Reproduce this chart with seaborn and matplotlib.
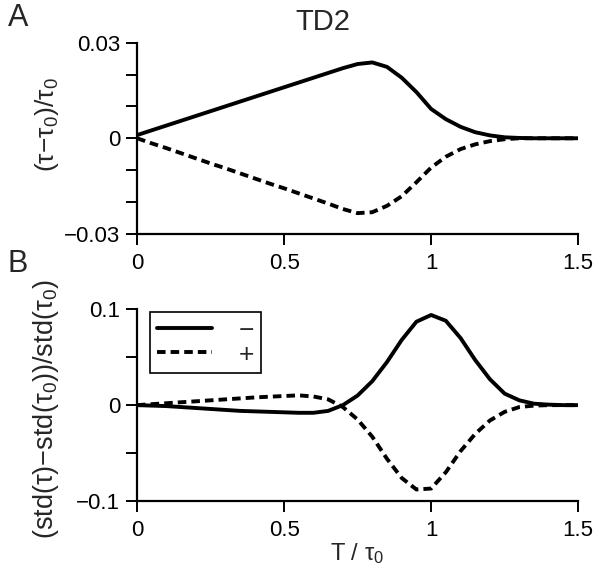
import numpy as np
import pandas as pd
import matplotlib
matplotlib.use("Agg")
import matplotlib.pyplot as plt
import seaborn as sns

# T / tau0 grid
t = np.round(np.arange(0, 1.501, 0.05), 2)

# panel A: (tau - tau0) / tau0
tau_minus = [0.001, 0.0025, 0.004, 0.0055, 0.007, 0.0085, 0.010, 0.0115, 0.013, 0.0145,
             0.016, 0.0175, 0.019, 0.0205, 0.022, 0.0233, 0.0238, 0.0224, 0.0190, 0.0145,
             0.0092, 0.0060, 0.0036, 0.0019, 0.0009, 0.0003, 0.0001, 0.0, 0.0, 0.0, 0.0]
tau_plus = [0.0, -0.0016, -0.0031, -0.0047, -0.0063, -0.0079, -0.0094, -0.011, -0.0126, -0.0142,
            -0.0157, -0.0173, -0.0189, -0.0205, -0.0222, -0.0235, -0.0232, -0.0212, -0.0182, -0.0138,
            -0.0092, -0.0058, -0.0034, -0.0019, -0.0009, -0.0003, 0.0, 0.0, 0.0, 0.0, 0.0]

# panel B: (std(tau) - std(tau0)) / std(tau0)
std_minus = [0.0, -0.0005, -0.001, -0.002, -0.003, -0.004, -0.005, -0.006, -0.0065, -0.007,
             -0.0075, -0.008, -0.008, -0.006, 0.0, 0.010, 0.025, 0.045, 0.068, 0.087,
             0.094, 0.088, 0.070, 0.047, 0.027, 0.012, 0.005, 0.0015, 0.0005, 0.0, 0.0]
std_plus = [0.0, 0.001, 0.002, 0.003, 0.004, 0.005, 0.006, 0.007, 0.008, 0.0088,
            0.0095, 0.0102, 0.009, 0.006, -0.002, -0.015, -0.033, -0.056, -0.076, -0.088,
            -0.087, -0.070, -0.048, -0.030, -0.016, -0.007, -0.002, -0.0005, 0.0, 0.0, 0.0]

signs = ["\u2212", "+"]

sns.set_style("ticks")
plt.rcParams["font.family"] = ["Liberation Sans", "DejaVu Sans"]
plt.rcParams["mathtext.fontset"] = "custom"
plt.rcParams["mathtext.rm"] = "Liberation Sans"
plt.rcParams["mathtext.it"] = "Liberation Sans"
plt.rcParams["axes.unicode_minus"] = True


def long_frame(minus, plus):
    return pd.DataFrame({
        "T": np.concatenate([t, t]),
        "val": np.concatenate([minus, plus]),
        "sign": [signs[0]] * len(t) + [signs[1]] * len(t),
    })


def style_axis(ax, ylim, major, minor, labels):
    ax.set_xlim(0, 1.5)
    ax.set_ylim(*ylim)
    ax.set_xticks([0, 0.5, 1, 1.5])
    ax.set_xticklabels(["0", "0.5", "1", "1.5"])
    ax.set_yticks(major)
    ax.set_yticklabels(labels)
    ax.set_yticks(minor, minor=True)
    for s in ["top", "right"]:
        ax.spines[s].set_visible(False)
    for s in ["left", "bottom"]:
        ax.spines[s].set_linewidth(1.6)
        ax.spines[s].set_color("black")
    ax.tick_params(which="both", direction="out", length=8, width=1.4,
                   labelsize=16, colors="black")
    ax.tick_params(axis="y", pad=4)
    ax.tick_params(axis="x", pad=6)
    ax.set_xlabel("")


dashes = {signs[0]: "", signs[1]: (2.2, 1.3)}

fig = plt.figure(figsize=(6.01, 5.69), dpi=100)
axA = fig.add_axes([0.228, 0.589, 0.734, 0.336])
axB = fig.add_axes([0.228, 0.1195, 0.734, 0.337])

sns.lineplot(data=long_frame(tau_minus, tau_plus), x="T", y="val", style="sign",
             dashes=dashes, color="black", linewidth=2.8, ax=axA, legend=False)
style_axis(axA, (-0.03, 0.03), [-0.03, 0, 0.03], [-0.02, -0.01, 0.01, 0.02],
           ["\u22120.03", "0", "0.03"])
axA.set_ylabel("(\u03c4\u2212\u03c4$_0$)/\u03c4$_0$", fontsize=19)
axA.yaxis.set_label_coords(-0.172, 0.57)

sns.lineplot(data=long_frame(std_minus, std_plus), x="T", y="val", style="sign",
             dashes=dashes, color="black", linewidth=2.8, ax=axB)
style_axis(axB, (-0.1, 0.1), [-0.1, 0, 0.1], [-0.05, 0.05],
           ["\u22120.1", "0", "0.1"])
axB.set_ylabel("(std(\u03c4)\u2212std(\u03c4$_0$))/std(\u03c4$_0$)", fontsize=19.5)
axB.yaxis.set_label_coords(-0.172, 0.48)
axB.set_xlabel("T / \u03c4$_0$", fontsize=17, labelpad=0)

leg = axB.legend(loc="upper left", bbox_to_anchor=(0.03, 0.985), borderaxespad=0,
                 fontsize=19, handlelength=2.1, frameon=True, fancybox=False,
                 framealpha=1, borderpad=0.25, labelspacing=0.0, handletextpad=1.0)
leg.get_frame().set_edgecolor("black")
leg.get_frame().set_linewidth(1.2)
for line in leg.get_lines():
    line.set_color("black")
    line.set_linewidth(2.8)

fig.text(0.013, 0.968, "A", fontsize=22, va="center", ha="left")
fig.text(0.013, 0.536, "B", fontsize=22, va="center", ha="left")
fig.text(0.537, 0.962, "TD2", fontsize=21, va="center", ha="center")

fig.savefig("out.png", dpi=100)
